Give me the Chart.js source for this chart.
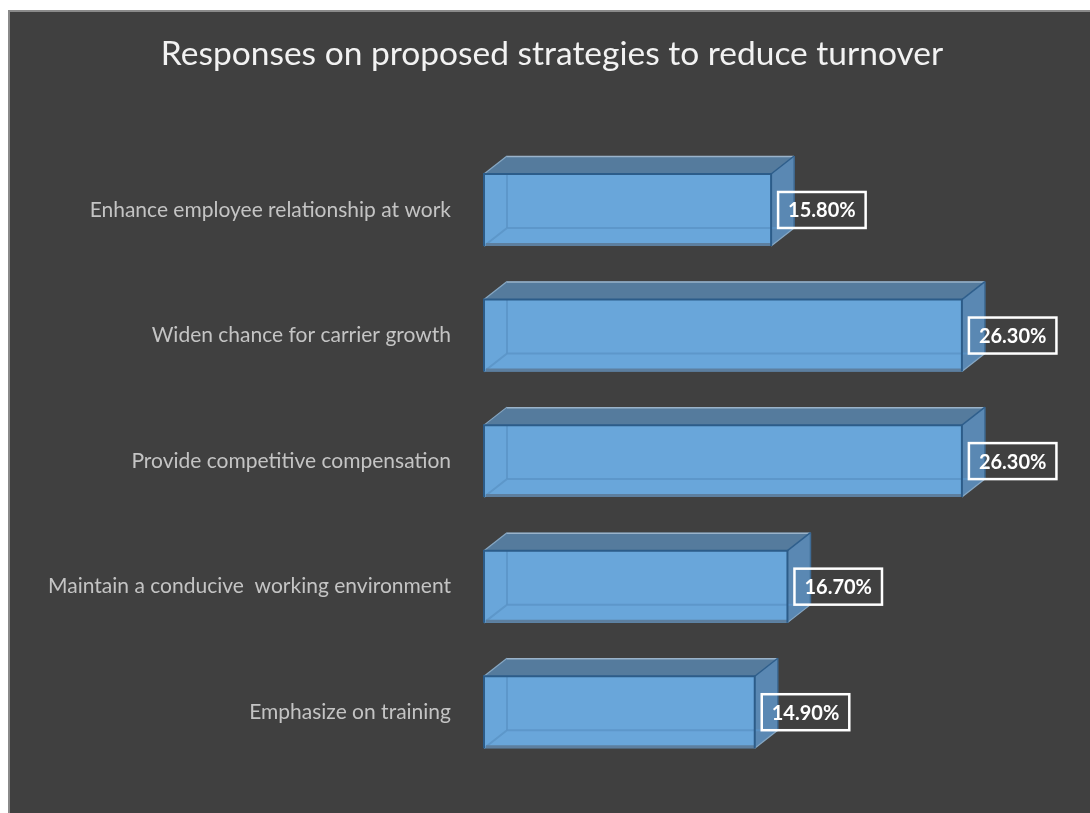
<!DOCTYPE html>
<html>
<head>
<meta charset="utf-8">
<title>Responses on proposed strategies to reduce turnover</title>
<script src="https://cdn.jsdelivr.net/npm/chart.js@4.4.1/dist/chart.umd.min.js"></script>
<style>
  html, body { margin: 0; padding: 0; background: #ffffff; }
  canvas { display: block; }
</style>
</head>
<body>
<canvas id="strategyChart" width="1090" height="813"></canvas>
<script>
const ctx = document.getElementById('strategyChart').getContext('2d');

// survey answers, top to bottom
const strategies = [
  'Enhance employee relationship at work',
  'Widen chance for carrier growth',
  'Provide competitive compensation',
  'Maintain a conducive  working environment',
  'Emphasize on training'
];
const responses = [15.8, 26.3, 26.3, 16.7, 14.9];

const FONT = 'Lato, "Open Sans", sans-serif';
const DEPTH_X = 23;   // how far the back face is pushed right
const DEPTH_Y = -18;  // and up

// dark panel with a grey rule on the left and top
const panelPlugin = {
  id: 'panel',
  beforeDraw(chart) {
    const c = chart.ctx;
    c.save();
    c.fillStyle = '#ffffff';
    c.fillRect(0, 0, chart.width, chart.height);
    c.fillStyle = '#404040';
    c.fillRect(8, 10, chart.width - 8, chart.height - 10);
    c.strokeStyle = '#8a8a8a';
    c.lineWidth = 2;
    c.beginPath();
    c.moveTo(9, chart.height);
    c.lineTo(9, 11);
    c.lineTo(chart.width, 11);
    c.stroke();
    c.restore();
  }
};

function line(c, pts, color, width) {
  c.strokeStyle = color;
  c.lineWidth = width;
  c.beginPath();
  c.moveTo(pts[0][0], pts[0][1]);
  for (let i = 1; i < pts.length; i++) c.lineTo(pts[i][0], pts[i][1]);
  c.stroke();
}

function poly(c, pts, color) {
  c.fillStyle = color;
  c.beginPath();
  c.moveTo(pts[0][0], pts[0][1]);
  for (let i = 1; i < pts.length; i++) c.lineTo(pts[i][0], pts[i][1]);
  c.closePath();
  c.fill();
}

// turns each flat bar into a see-through box and adds the boxed value label
const boxPlugin = {
  id: 'box3d',
  afterDatasetsDraw(chart) {
    const c = chart.ctx;
    const meta = chart.getDatasetMeta(0);
    c.save();
    meta.data.forEach((bar, i) => {
      const x0 = bar.base, x1 = bar.x;
      const yt = bar.y - bar.height / 2, yb = bar.y + bar.height / 2;
      const dx = DEPTH_X, dy = DEPTH_Y;

      // top and right faces
      poly(c, [[x0, yt], [x1, yt], [x1 + dx, yt + dy], [x0 + dx, yt + dy]], '#557b9d');
      poly(c, [[x1, yt], [x1 + dx, yt + dy], [x1 + dx, yb + dy], [x1, yb]], '#5a88b3');

      // hidden edges showing through the front
      c.globalAlpha = 0.8;
      line(c, [[x0, yb], [x0 + dx, yb + dy], [x1 + dx, yb + dy]], '#5a93c6', 2);
      line(c, [[x0 + dx, yt], [x0 + dx, yb + dy]], '#5a93c6', 2);
      c.globalAlpha = 1;

      // bottom rim of the front face
      line(c, [[x0 + 2, yb - 1.5], [x1, yb - 1.5]], '#5d7f9f', 3);

      // outer edges
      line(c, [[x0 + dx, yt + dy + 0.5], [x1 + dx, yt + dy + 0.5]], '#9ab3ca', 1.5);
      line(c, [[x0, yt], [x0 + dx, yt + dy]], '#87a8c4', 1.2);
      line(c, [[x1, yb], [x1 + dx, yb + dy]], '#87a8c4', 1.2);
      line(c, [[x1 + dx, yt + dy], [x1 + dx, yb + dy]], '#3f6c96', 1.5);
      line(c, [[x1, yt], [x1 + dx, yt + dy]], '#2f5f8c', 1.5);
      line(c, [[x0, yb], [x0, yt], [x1, yt], [x1, yb]], '#2c5c89', 2);

      // value label
      const text = responses[i].toFixed(2) + '%';
      c.font = 'bold 20px ' + FONT;
      const w = c.measureText(text).width + 20;
      const bx = x1 + 7, by = bar.y - 18;
      c.strokeStyle = '#ffffff';
      c.lineWidth = 2.5;
      c.strokeRect(bx, by, w, 36);
      c.fillStyle = '#ffffff';
      c.textAlign = 'center';
      c.textBaseline = 'middle';
      c.fillText(text, bx + w / 2, bar.y + 1);
    });
    c.restore();
  }
};

new Chart(ctx, {
  type: 'bar',
  data: {
    labels: strategies,
    datasets: [{
      label: 'Responses',
      data: responses,
      backgroundColor: '#69a6da',
      borderWidth: 0,
      barPercentage: 0.573,
      categoryPercentage: 1
    }]
  },
  options: {
    indexAxis: 'y',
    responsive: false,
    animation: false,
    layout: { padding: { top: 10, left: 14, right: 0, bottom: 38 } },
    plugins: {
      legend: { display: false },
      tooltip: { enabled: false },
      title: {
        display: true,
        text: 'Responses on proposed strategies to reduce turnover',
        color: '#f2f2f2',
        font: { family: FONT, size: 33.5, weight: 'normal' },
        padding: { top: 24, bottom: 73 }
      }
    },
    scales: {
      x: {
        display: false,
        min: 0,
        max: 33.35
      },
      y: {
        afterFit(scale) {
          scale.width = 470;
          scale.paddingTop = 0;
          scale.paddingBottom = 0;
        },
        grid: { display: false, drawTicks: false },
        border: { display: false },
        ticks: {
          color: '#c4c4c4',
          padding: 33,
          font: { family: FONT, size: 21 }
        }
      }
    }
  },
  plugins: [panelPlugin, boxPlugin]
});
</script>
</body>
</html>
